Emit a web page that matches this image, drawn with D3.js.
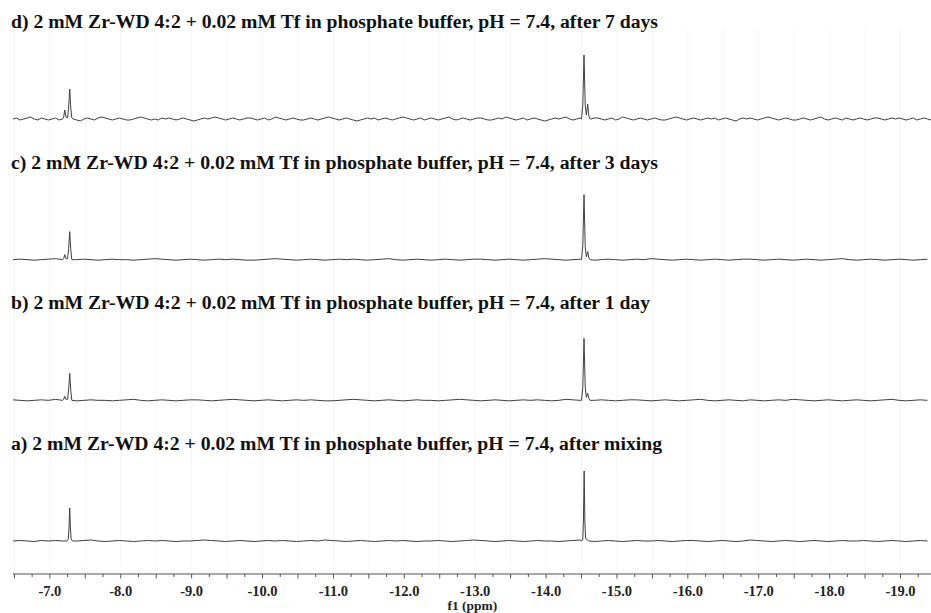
<!DOCTYPE html>
<html><head><meta charset="utf-8">
<script src="https://cdn.jsdelivr.net/npm/d3@7/dist/d3.min.js"></script>
<style>body{margin:0;background:#fff}svg{display:block}</style></head>
<body>
<svg id="chart" width="931" height="613"></svg>
<script>
// ---------- data ----------
const panelIds = ["d", "c", "b", "a"]; // top to bottom
const titles = [
  "d) 2 mM Zr-WD 4:2 + 0.02 mM Tf in phosphate buffer, pH = 7.4, after 7 days",
  "c) 2 mM Zr-WD 4:2 + 0.02 mM Tf in phosphate buffer, pH = 7.4, after 3 days",
  "b) 2 mM Zr-WD 4:2 + 0.02 mM Tf in phosphate buffer, pH = 7.4, after 1 day",
  "a) 2 mM Zr-WD 4:2 + 0.02 mM Tf in phosphate buffer, pH = 7.4, after mixing"
];
const titleWidths = [647, 647, 639, 651];
const tickLabels = [-7, -8, -9, -10, -11, -12, -13, -14, -15, -16, -17, -18, -19];
const ppmStart = -6.48, ppmEnd = -19.43;

// baseline noise (intensity units), sampled along ppm from ppmStart
const noiseStepD = 0.05;
const noiseD = [
 0,1,-1,0,1,2,0,-1,1,0, -1,0,1,-1,0,1,1,0,-1,-2, 0,1,0,-1,1,2,1,0,-1,0, 1,0,-1,-1,0,1,2,1,0,-1,
 0,-1,1,0,1,0,-1,0,1,0, -1,-2,-1,0,1,0,1,2,1,0, -1,0,1,0,-1,0,1,1,0,-1, 0,1,-1,0,2,1,0,-1,0,1,
 0,-1,-1,0,1,0,-1,0,1,2, 1,0,-1,0,1,0,-1,-2,-1,0, 1,0,1,-1,0,1,0,-1,0,1, 2,1,0,-1,0,1,-1,0,1,0,
 -1,0,1,2,0,-1,0,1,0,-1, 0,1,1,0,-1,-1,0,1,0,2, 1,0,-1,0,1,-1,0,1,0,-1, -2,-1,0,1,0,1,2,0,-1,0,
 1,0,-1,0,1,1,0,-1,0,1, -1,0,2,1,0,-1,0,1,0,-1, 0,1,0,-1,-1,0,1,2,1,0, -1,0,1,0,-1,0,1,0,1,-1,
 0,1,0,-1,-2,0,1,0,1,0, -1,0,1,2,1,0,-1,0,1,0, -1,-1,0,1,0,-1,0,1,2,0, -1,0,1,0,-1,1,0,-1,0,1,
 0,-1,0,1,1,0,-1,0,1,0, 1,0,-1,0,1,-1,0,1,0,-1
];
const noiseStep = 0.1;
const noiseC = [
 0,0.5,0,-0.5,0,0.5,1,0,-0.5,0, 0.5,0,-0.5,0,0.5,0,0,-0.5,0,0.5, 1,0.5,0,-0.5,0,0.5,0,-0.5,0,0.5,
 0,0.5,0,-0.5,-0.5,0,0.5,1,0.5,0, -0.5,0,0.5,0,-0.5,0,0.5,0,0.5,0, -0.5,0,0.5,1,0,-0.5,0,0.5,0,-0.5,
 0,0.5,0,-0.5,0,0.5,0.5,0,-0.5,0, 0.5,0,-0.5,0,0.5,1,0.5,0,-0.5,0, 0.5,0,-0.5,0,0.5,0,-0.5,0,0.5,0,
 1,0.5,0,-0.5,0,0.5,0,-0.5,0,0.5, 0,-0.5,0,0.5,0.5,0,-0.5,0,0.5,0, -0.5,0,0.5,0,-0.5,0,0.5,1,0,-0.5,
 0,0.5,0,-0.5,0,0.5,0,-0.5,0,0.5
];
const noiseB = [
 0.5,0,-0.5,0,0.5,0,1,0.5,0,-0.5, 0,0.5,0,0,-0.5,0,0.5,1,0,-0.5, 0,0.5,0,-0.5,0,0.5,0.5,0,-0.5,0,
 0.5,1,0.5,0,-0.5,0,0.5,0,-0.5,0, 0.5,0,0.5,0,-0.5,-0.5,0,0.5,1,0.5, 0,-0.5,0,0.5,0,-0.5,0,0.5,0,0,
 -0.5,0,0.5,1,0.5,0,-0.5,0,0.5,0, -0.5,0,0.5,0,0.5,0,-0.5,0,1,0.5, 0,-0.5,0,0.5,0,-0.5,0,0.5,0.5,0,
 -0.5,0,0.5,0,-0.5,0,0.5,1,0,-0.5, 0,0.5,0,-0.5,0.5,0,-0.5,0,0.5,0, 1,0.5,0,-0.5,0,0.5,0,-0.5,0,0.5,
 0,-0.5,0,0.5,1,0,-0.5,0,0.5,0
];
const noiseA = [
 0,0.5,0,-0.5,0.5,0,0.5,0,-0.5,0, 0.5,1,0,-0.5,0,0.5,0,-0.5,0,0.5, 0,0.5,0,-0.5,0,0,0.5,1,0.5,0,
 -0.5,0,0.5,0,-0.5,0,0.5,0,0.5,0, -0.5,0,0.5,0,1,0.5,0,-0.5,0,0.5, 0,-0.5,0,0.5,0,0.5,0,-0.5,0,0,
 0.5,0,-0.5,0,0.5,1,0.5,0,-0.5,0, 0.5,0,-0.5,0,0.5,0,0,-0.5,0,0.5, 1,0,-0.5,0,0.5,0,-0.5,0,0.5,0,
 0,0.5,0,-0.5,0,0.5,0.5,0,-0.5,0, 0.5,0,-0.5,0,1,0.5,0,-0.5,0,0.5, 0,-0.5,0,0.5,0,-0.5,0,0.5,0,0,
 0.5,0,-0.5,0,0.5,0,-0.5,0,0.5,0
];

// peak profiles [ppm, intensity]
const peaksD = [
  [-7.18,0],[-7.195,2],[-7.21,9],[-7.228,2],[-7.25,1],[-7.265,12],[-7.28,30],[-7.295,11],[-7.31,1],
  [-14.50,0],[-14.518,14],[-14.535,64],[-14.552,14],[-14.568,4],[-14.587,15],[-14.603,3],[-14.62,0]
];
const peaksC = [
  [-7.18,0],[-7.195,1],[-7.21,5],[-7.228,1],[-7.25,1],[-7.265,11],[-7.28,28],[-7.295,10],[-7.31,0],
  [-14.50,0],[-14.518,14],[-14.535,65],[-14.552,13],[-14.568,3],[-14.587,8],[-14.603,2],[-14.62,0]
];
const peaksB = [
  [-7.18,0],[-7.195,1],[-7.21,4],[-7.228,1],[-7.25,1],[-7.265,11],[-7.28,27],[-7.295,10],[-7.31,0],
  [-14.50,0],[-14.518,13],[-14.535,62],[-14.552,13],[-14.568,3],[-14.587,7],[-14.603,2],[-14.62,0]
];
const peaksA = [
  [-7.24,0],[-7.26,2],[-7.27,13],[-7.28,33],[-7.29,13],[-7.30,2],[-7.32,0],
  [-14.50,0],[-14.518,2],[-14.527,20],[-14.537,70],[-14.547,20],[-14.557,3],[-14.58,1],[-14.60,0]
];
const noiseSets = [[noiseD, noiseStepD], [noiseC, noiseStep], [noiseB, noiseStep], [noiseA, noiseStep]];
const peakSets = [peaksD, peaksC, peaksB, peaksA];

// ---------- drawing ----------
const svg = d3.select("#chart");
const x = d3.scaleLinear().domain([ppmStart, ppmEnd]).range([13, 931]);
const baseY = d3.scaleLinear().domain([0, 3]).range([119, 541]);
const serif = "'Liberation Serif','Times New Roman',Times,serif";

// faint grid lines
const gridVals = d3.range(-6.5, -19.5, -0.5);
svg.append("g").selectAll("line").data(gridVals).join("line")
  .attr("x1", d => x(d)).attr("x2", d => x(d))
  .attr("y1", 30).attr("y2", 566)
  .attr("stroke", "#f5f5f5").attr("stroke-width", 1);

function buildSpectrum(noise, step, peaks) {
  const windows = [];
  let cur = [peaks[0]];
  for (let i = 1; i < peaks.length; i++) {
    if (Math.abs(peaks[i][0] - peaks[i-1][0]) > 0.2) { windows.push(cur); cur = []; }
    cur.push(peaks[i]);
  }
  windows.push(cur);
  const pts = [];
  noise.forEach((v, i) => {
    const p = ppmStart - i * step;
    const inside = windows.some(w => p <= w[0][0] + 0.01 && p >= w[w.length-1][0] - 0.01);
    if (!inside && p >= ppmEnd - 1e-9) pts.push([p, v]);
  });
  peaks.forEach(p => pts.push(p));
  pts.sort((a, b) => b[0] - a[0]);
  return pts;
}

panelIds.forEach((id, i) => {
  const y0 = baseY(i);
  const y = d3.scaleLinear().domain([0, 100]).range([y0, y0 - 100]);
  const pts = buildSpectrum(noiseSets[i][0], noiseSets[i][1], peakSets[i]);
  const line = d3.line().x(d => x(d[0])).y(d => y(d[1]));
  svg.append("path").datum(pts)
    .attr("d", line).attr("fill", "none")
    .attr("stroke", "#3f3f3f").attr("stroke-width", 1).attr("stroke-linejoin", "round");
  svg.append("text")
    .attr("x", 11).attr("y", y0 - 91)
    .attr("font-family", serif).attr("font-weight", "bold").attr("font-size", 18.5)
    .attr("fill", "#111")
    .attr("textLength", titleWidths[i]).attr("lengthAdjust", "spacingAndGlyphs")
    .text(titles[i]);
});

// axis
const axisY = 574;
const ax = svg.append("g").attr("transform", `translate(0,${axisY})`);
ax.append("line").attr("x1", 13).attr("x2", 931).attr("stroke", "#555").attr("stroke-width", 1.2);
const minorVals = d3.range(-6.5, -19.45, -0.25);
ax.selectAll("line.t").data(minorVals).join("line").attr("class", "t")
  .attr("x1", d => x(d)).attr("x2", d => x(d))
  .attr("y1", 0).attr("y2", d => (Math.abs(d * 2 - Math.round(d * 2)) < 1e-6) ? 4.5 : 3)
  .attr("stroke", "#555").attr("stroke-width", 1);
ax.selectAll("text.l").data(tickLabels).join("text").attr("class", "l")
  .attr("x", d => x(d)).attr("y", 22)
  .attr("text-anchor", "middle")
  .attr("font-family", serif).attr("font-weight", "bold").attr("font-size", 14.5)
  .attr("fill", "#222")
  .text(d => d.toFixed(1));
svg.append("text").attr("x", x(-12.96)).attr("y", 610)
  .attr("text-anchor", "middle")
  .attr("font-family", serif).attr("font-weight", "bold").attr("font-size", 13.5)
  .attr("fill", "#222").text("f1 (ppm)");
</script>
</body></html>
